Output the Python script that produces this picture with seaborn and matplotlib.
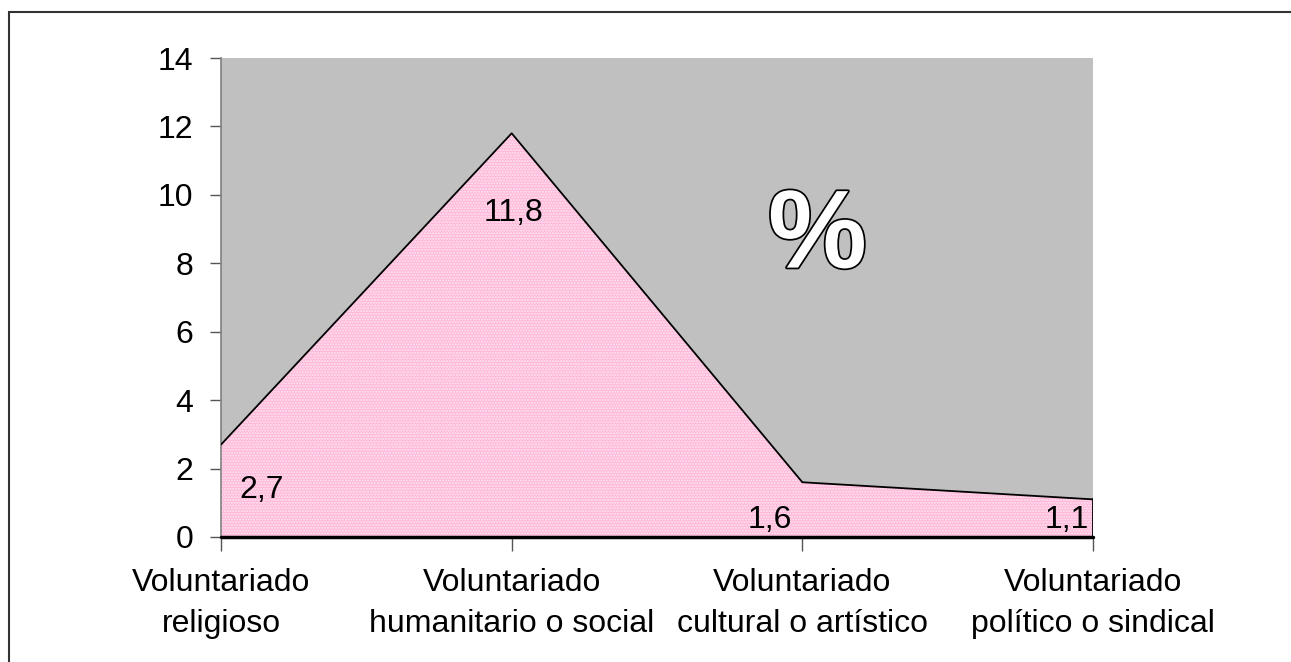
import numpy as np
import pandas as pd
import matplotlib
matplotlib.use("Agg")
import matplotlib.pyplot as plt
import matplotlib.patheffects as pe
from matplotlib.patches import Rectangle
import seaborn as sns

# Chart data
categorias = ["Voluntariado\nreligioso", "Voluntariado\nhumanitario o social",
              "Voluntariado\ncultural o artístico", "Voluntariado\npolítico o sindical"]
porcentajes = [2.7, 11.8, 1.6, 1.1]
etiquetas = ["2,7", "11,8", "1,6", "1,1"]
y_ticks = [0, 2, 4, 6, 8, 10, 12, 14]

df = pd.DataFrame({"pos": np.arange(len(categorias)), "valor": porcentajes})

sns.set_style("white")
plt.rcParams["font.family"] = ["Liberation Sans", "DejaVu Sans"]
plt.rcParams["text.color"] = "black"
plt.rcParams["xtick.color"] = "black"
plt.rcParams["ytick.color"] = "black"

fs = 23

fig = plt.figure(figsize=(12.91, 6.62), dpi=100)
ax = fig.add_axes([221 / 1291, 1 - 537 / 662, (1093 - 221) / 1291, (537 - 58) / 662])
ax.set_facecolor("#C0C0C0")

# pink area with a fine dotted texture
ax.fill_between(df["pos"], df["valor"], 0, facecolor="#FFB8DA", edgecolor="none", zorder=2)
ax.fill_between(df["pos"], df["valor"], 0, facecolor="none", edgecolor="#FFE8F3",
                hatch="......", linewidth=0, zorder=2)
sns.lineplot(data=df, x="pos", y="valor", color="black", linewidth=1.3, ax=ax, zorder=3)
ax.plot([df["pos"].iloc[0], df["pos"].iloc[-1]], [0, 0], color="black", lw=2.5, zorder=3,
        clip_on=False)
ax.plot([df["pos"].iloc[-1]] * 2, [0, df["valor"].iloc[-1]], color="black", lw=1.3, zorder=3)

# value labels (offsets in pixels from each point)
offsets = [(41, -45), (2, -80), (-33, -38), (-26, -21)]
for x, y, txt, off in zip(df["pos"], df["valor"], etiquetas, offsets):
    ax.annotate(txt, (x, y), xytext=off, textcoords="offset pixels",
                ha="center", va="center", fontsize=fs, zorder=4)

# outlined percent sign
ax.text(0.684, 0.623, "%", transform=ax.transAxes, ha="center", va="center",
        fontsize=80, fontweight="bold", color="white", zorder=4,
        path_effects=[pe.withStroke(linewidth=2.5, foreground="black")])

ax.set_xlim(0, len(categorias) - 1)
ax.set_ylim(0, 14)
ax.set_yticks(y_ticks)
ax.set_xticks(df["pos"])
ax.set_xticklabels(categorias, fontsize=fs, linespacing=1.5)
ax.tick_params(axis="y", labelsize=fs, length=8, width=1, color="#555555", left=True, pad=12)
ax.tick_params(axis="x", length=10, width=1, color="#555555", bottom=True, pad=12)
ax.set_xlabel("")
ax.set_ylabel("")
for s in ["top", "right"]:
    ax.spines[s].set_visible(False)
ax.spines["left"].set_color("#808080")
ax.spines["left"].set_linewidth(1.2)
ax.spines["bottom"].set_visible(False)

# outer frame (runs off the right and bottom edges)
fig.patches.append(Rectangle((9 / 1291, -0.05), 1.2, 1 - 12 / 662 + 0.05,
                             transform=fig.transFigure, fill=False,
                             edgecolor="#333333", linewidth=1.5))

fig.savefig("out.png", dpi=100)
